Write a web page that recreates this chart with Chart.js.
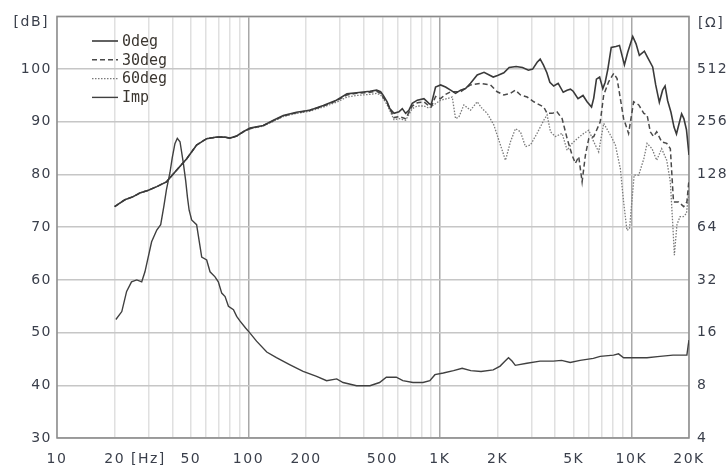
<!DOCTYPE html>
<html>
<head>
<meta charset="utf-8">
<script src="https://cdn.jsdelivr.net/npm/chart.js@4"></script>
<style>
  body { margin: 0; background: #fff; }
  #chart { display: block; }
</style>
</head>
<body>
<canvas id="chart" width="728" height="466"></canvas>
<script>
// on-axis response (Hz / dB)
const deg0Hz = [20, 22.6, 25, 27.1, 30, 33.2, 37.3, 42.1, 47.6, 53.6, 60.5, 68.3, 75, 80, 86.8, 93.9, 101.9, 119.6, 135, 152, 178, 209, 246, 288, 327, 367, 431, 467, 490, 506, 530, 547, 576, 611, 636, 662, 689, 717, 762, 825, 876, 900, 949, 1008, 1070, 1137, 1207, 1282, 1361, 1445, 1566, 1700, 1899, 2000, 2157, 2300, 2500, 2700, 2900, 3050, 3220, 3340, 3470, 3620, 3752, 3930, 4147, 4406, 4615, 4806, 4966, 5265, 5590, 5870, 6194, 6360, 6570, 6827, 7093, 7300, 7538, 7850, 8300, 8668, 9198, 9573, 10165, 10580, 11010, 11693, 12170, 12922, 13400, 14000, 14560, 15000, 15470, 16100, 16700, 17200, 17700, 18300, 18800, 19400, 20000]
const deg0Db = [73.9, 75.2, 75.8, 76.5, 77.0, 77.7, 78.6, 80.8, 83.0, 85.6, 86.8, 87.1, 87.1, 86.9, 87.3, 88.1, 88.8, 89.3, 90.3, 91.2, 91.8, 92.2, 93.1, 94.1, 95.3, 95.5, 95.8, 96.0, 95.7, 95.0, 93.8, 92.5, 91.6, 91.9, 92.5, 91.6, 92.2, 93.5, 94.1, 94.4, 93.5, 93.2, 96.6, 97.0, 96.6, 96.0, 95.4, 96.0, 96.3, 97.3, 98.9, 99.4, 98.5, 98.8, 99.3, 100.3, 100.5, 100.3, 99.8, 100.0, 101.3, 101.9, 100.8, 99.3, 97.5, 96.8, 97.3, 95.6, 96.0, 96.2, 95.8, 94.4, 95.0, 93.8, 92.8, 94.5, 98.1, 98.5, 96.3, 97.5, 100.0, 104.1, 104.3, 104.5, 100.8, 103.2, 106.2, 104.8, 102.6, 103.4, 102.2, 100.4, 97.0, 93.7, 96.0, 96.8, 94.0, 91.8, 89.0, 87.7, 89.5, 91.5, 90.6, 88.5, 83.7]

// 30 degrees off axis
const deg30Hz = [20, 22.6, 25, 27.1, 30, 33.2, 37.3, 42.1, 47.6, 53.6, 60.5, 68.3, 75, 80, 86.8, 93.9, 101.9, 119.6, 135, 152, 178, 209, 246, 288, 327, 367, 431, 467, 490, 506, 530, 576, 611, 662, 717, 762, 825, 876, 900, 949, 1008, 1070, 1137, 1282, 1445, 1630, 1838, 1991, 2157, 2336, 2480, 2635, 2854, 3093, 3487, 3629, 3850, 4090, 4347, 4620, 4900, 5100, 5310, 5530, 5755, 5990, 6360, 6880, 7170, 7610, 8090, 8420, 8760, 9110, 9670, 10280, 10930, 11620, 12080, 12560, 13050, 13560, 14400, 15300, 15980, 16600, 17640, 18760, 19500, 20000]
const deg30Db = [73.9, 75.2, 75.8, 76.5, 77.0, 77.7, 78.6, 80.8, 83.0, 85.6, 86.8, 87.1, 87.1, 86.9, 87.3, 88.1, 88.7, 89.3, 90.2, 91.1, 91.7, 92.2, 93.0, 94.0, 95.1, 95.4, 95.6, 95.8, 95.4, 94.6, 93.6, 90.8, 91.0, 90.6, 93.0, 93.6, 93.8, 93.0, 92.8, 94.8, 94.4, 95.2, 95.7, 95.7, 97.0, 97.3, 97.0, 95.7, 95.1, 95.4, 96.0, 95.1, 94.7, 93.8, 92.8, 91.6, 91.6, 91.9, 90.6, 86.8, 83.7, 82.1, 83.4, 78.6, 83.7, 86.8, 87.2, 90.0, 95.1, 97.6, 99.2, 98.2, 94.4, 90.6, 87.8, 93.8, 93.2, 91.6, 91.3, 88.1, 87.2, 88.1, 86.2, 85.9, 84.9, 74.8, 74.8, 73.9, 74.8, 79.0]

// 60 degrees off axis
const deg60Hz = [20, 22.6, 25, 27.1, 30, 33.2, 37.3, 42.1, 47.6, 53.6, 60.5, 68.3, 75, 80, 86.8, 93.9, 101.9, 119.6, 135, 152, 178, 209, 246, 288, 327, 367, 431, 467, 490, 506, 530, 576, 611, 662, 717, 762, 825, 876, 894, 1008, 1092, 1160, 1207, 1256, 1334, 1445, 1566, 1662, 1766, 1913, 2071, 2200, 2336, 2480, 2635, 2797, 2971, 3216, 3487, 3629, 3780, 4010, 4347, 4620, 4900, 5207, 5640, 5990, 6360, 6750, 7170, 7770, 8250, 8760, 9110, 9480, 9780, 10060, 10340, 10930, 11620, 12080, 12820, 13560, 14400, 15300, 15980, 16500, 16770, 17300, 17960, 18670, 19400, 20000]
const deg60Db = [73.9, 75.2, 75.8, 76.5, 77.0, 77.7, 78.6, 80.8, 83.0, 85.6, 86.8, 87.1, 87.1, 86.9, 87.3, 88.1, 88.7, 89.2, 90.1, 91.0, 91.6, 92.0, 92.8, 93.7, 94.7, 95.0, 95.2, 95.4, 95.1, 94.4, 93.2, 90.4, 90.6, 90.3, 92.5, 93.0, 93.0, 92.6, 92.8, 94.1, 94.4, 94.7, 90.6, 90.9, 93.2, 92.2, 93.8, 92.5, 91.6, 89.4, 85.6, 82.7, 86.2, 88.7, 88.1, 85.3, 85.6, 87.8, 90.3, 91.3, 88.1, 87.2, 87.8, 84.6, 85.9, 86.8, 87.8, 88.4, 86.2, 84.3, 89.7, 87.5, 85.6, 81.1, 74.8, 69.4, 69.7, 74.8, 79.9, 79.9, 83.0, 85.9, 84.9, 82.7, 84.9, 82.7, 78.6, 69.7, 64.7, 70.5, 72.0, 72.0, 72.6, 77.0]

// impedance (Hz / ohm)
const impHz = [20.3, 21.8, 23.1, 24.5, 26.1, 27.7, 28.8, 31.2, 33.2, 34.8, 36.2, 37.3, 38.9, 40, 41.3, 42.5, 43.9, 45.6, 47, 48, 49, 50.5, 53.6, 57, 60.5, 63, 66.9, 69.6, 72.5, 75.5, 78.6, 83.5, 86.8, 90.4, 96.6, 101.9, 110.2, 124.6, 140, 164, 193, 227, 256, 289, 312, 367, 431, 484, 525, 592, 640, 723, 816, 886, 942, 1042, 1178, 1307, 1449, 1640, 1899, 2063, 2191, 2282, 2380, 2476, 2846, 3335, 3910, 4320, 4790, 5400, 6330, 6870, 8070, 8570, 9110, 10280, 12060, 14100, 16500, 19500, 19800, 20000]
const impOhm = [19.0, 21.1, 27.5, 31.2, 32.0, 31.2, 35.6, 52.8, 61.7, 66.2, 85, 105, 131, 160, 192, 206, 197, 151, 118, 95, 80, 70.4, 66.2, 43.2, 41.6, 35.6, 33.3, 31.2, 26.9, 25.7, 22.6, 21.6, 19.8, 18.6, 17.0, 15.9, 14.3, 12.4, 11.5, 10.5, 9.6, 9.0, 8.5, 8.7, 8.3, 7.95, 7.95, 8.3, 8.9, 8.9, 8.5, 8.3, 8.3, 8.5, 9.2, 9.4, 9.7, 10.0, 9.7, 9.6, 9.8, 10.3, 11.0, 11.5, 11.0, 10.4, 10.7, 11.0, 11.0, 11.1, 10.8, 11.1, 11.4, 11.7, 11.9, 12.1, 11.5, 11.5, 11.5, 11.7, 11.9, 11.9, 13.5, 14.5]

const freqGrid = [10, 20, 30, 40, 50, 60, 70, 80, 90, 100, 200, 300, 400, 500, 600, 700, 800, 900, 1000, 2000, 3000, 4000, 5000, 6000, 7000, 8000, 9000, 10000, 20000]
const freqLabels = { 10: '10', 20: '20', 30: '[Hz]', 50: '50', 100: '100', 200: '200', 500: '500', 1000: '1K', 2000: '2K', 5000: '5K', 10000: '10K', 20000: '20K' }
const dbTicks = [30, 40, 50, 60, 70, 80, 90, 100, 110]
const ohmTicks = [4, 8, 16, 32, 64, 128, 256, 512]
const seriesNames = ['0deg', '30deg', '60deg', 'Imp']

const toPoints = (xs, ys) => xs.map((x, i) => ({ x: x, y: ys[i] }))

const labelColor = '#3a3f4b'
const tickFont = { family: 'DejaVu Sans', size: 14 }

const framePlugin = {
    id: 'frame',
    beforeDraw(chart) {
        chart.ctx.letterSpacing = '1.5px'
    },
    beforeDatasetsDraw(chart) {
        const a = chart.chartArea
        const c = chart.ctx
        c.save()
        c.strokeStyle = '#8a8a8a'
        c.lineWidth = 1.5
        c.strokeRect(a.left, a.top, a.right - a.left, a.bottom - a.top)
        c.restore()
    },
    afterDraw(chart) {
        const c = chart.ctx
        const a = chart.chartArea
        c.save()
        c.fillStyle = labelColor
        c.font = '14px "DejaVu Sans"'
        c.letterSpacing = '1.5px'
        c.textBaseline = 'middle'
        c.textAlign = 'right'
        c.fillText('[dB]', 49, 22)
        c.textAlign = 'left'
        c.fillText('[Ω]', a.right + 9, 23)

        // legend inside plot
        c.letterSpacing = '0px'
        c.font = '15px "DejaVu Sans Mono"'
        chart.data.datasets.forEach((ds, i) => {
            const y = 41 + i * 18.8
            c.strokeStyle = ds.borderColor
            c.lineWidth = ds.borderWidth
            c.setLineDash(ds.borderDash || [])
            c.beginPath()
            c.moveTo(92, y)
            c.lineTo(118, y)
            c.stroke()
            c.fillStyle = '#3b3630'
            c.fillText(ds.label, 122, y + 1)
        })
        c.restore()
    }
}

new Chart(document.getElementById('chart'), {
    type: 'line',
    data: {
        datasets: [{
            label: seriesNames[0],
            data: toPoints(deg0Hz, deg0Db),
            borderColor: '#3a3a3a',
            borderWidth: 1.6,
            yAxisID: 'y'
        }, {
            label: seriesNames[1],
            data: toPoints(deg30Hz, deg30Db),
            borderColor: '#4a4a4a',
            borderWidth: 1.5,
            borderDash: [5, 3],
            yAxisID: 'y'
        }, {
            label: seriesNames[2],
            data: toPoints(deg60Hz, deg60Db),
            borderColor: '#7a7a7a',
            borderWidth: 1.3,
            borderDash: [1.5, 1.5],
            yAxisID: 'y'
        }, {
            label: seriesNames[3],
            data: toPoints(impHz, impOhm),
            borderColor: '#404040',
            borderWidth: 1.4,
            yAxisID: 'y2'
        }]
    },
    options: {
        responsive: false,
        animation: false,
        elements: {
            point: { radius: 0 },
            line: { tension: 0 }
        },
        layout: { padding: { top: 14, left: 0, right: 0, bottom: 0 } },
        plugins: {
            legend: { display: false },
            tooltip: { enabled: false }
        },
        scales: {
            x: {
                type: 'logarithmic',
                min: 10,
                max: 20000,
                afterBuildTicks: s => { s.ticks = freqGrid.map(v => ({ value: v })) },
                afterFit: s => { s.height = 28 },
                border: { display: false },
                grid: {
                    drawTicks: false,
                    lineWidth: 1.5,
                    color: c => [100, 1000, 10000].includes(c.tick.value) ? '#a8a8a8' : '#e0e0e0'
                },
                ticks: {
                    autoSkip: false,
                    maxRotation: 0,
                    padding: 13,
                    color: labelColor,
                    font: tickFont,
                    callback: v => freqLabels[v] || ''
                }
            },
            y: {
                position: 'left',
                min: 30,
                max: 110,
                afterBuildTicks: s => { s.ticks = dbTicks.map(v => ({ value: v })) },
                afterFit: s => { s.width = 57 },
                border: { display: false },
                grid: { drawTicks: false, lineWidth: 1.5, color: '#c6c6c6' },
                ticks: {
                    padding: 5,
                    color: labelColor,
                    font: tickFont,
                    callback: v => v === 110 ? '' : v
                }
            },
            y2: {
                type: 'logarithmic',
                position: 'right',
                min: 4,
                max: 1024,
                afterBuildTicks: s => { s.ticks = ohmTicks.map(v => ({ value: v })) },
                afterFit: s => { s.width = 39 },
                border: { display: false },
                grid: { display: false, drawTicks: false },
                ticks: {
                    padding: 8,
                    color: labelColor,
                    font: tickFont,
                    callback: v => String(v)
                }
            }
        }
    },
    plugins: [framePlugin]
});
</script>
</body>
</html>
